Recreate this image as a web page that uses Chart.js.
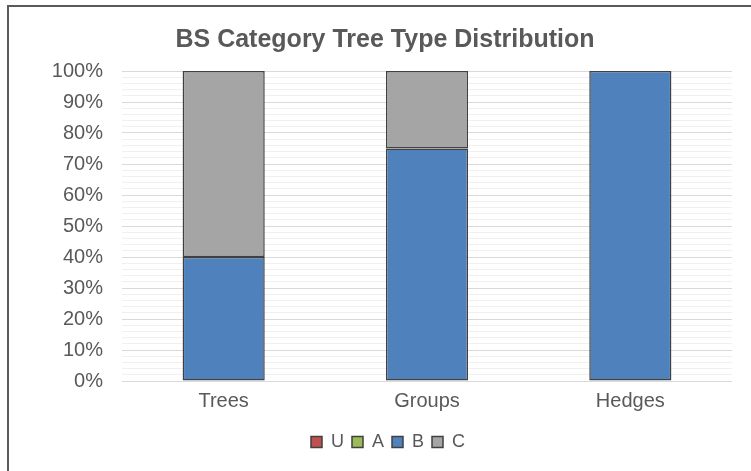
<!DOCTYPE html>
<html>
<head>
<meta charset="utf-8">
<script src="https://cdn.jsdelivr.net/npm/chart.js@4"></script>
<style>
  html, body { margin: 0; padding: 0; background: #fff; overflow: hidden; width: 751px; height: 471px; }
  #frame { position: absolute; left: 7px; top: 5px; width: 758px; height: 470px;
           border-left: 2px solid #5a5a5a; border-top: 2px solid #5a5a5a; box-sizing: border-box; }
  #wrap { position: absolute; left: 8px; top: 6px; width: 757px; height: 465px; }
</style>
</head>
<body>
<div id="frame"></div>
<div id="wrap"><canvas id="c"></canvas></div>
<script>
const categories = ["Trees", "Groups", "Hedges"];
const seriesNames = ["U", "A", "B", "C"];
const valuesU = [0, 0, 0];
const valuesA = [0, 0, 0];
const valuesB = [40, 75, 100];
const valuesC = [60, 25, 0];
const seriesColors = ["#C0504D", "#9BBB59", "#4F81BD", "#A5A5A5"];
const titleText = "BS Category Tree Type Distribution";

const seriesValues = [valuesU, valuesA, valuesB, valuesC];
const textColor = "#595959";
const fontFamily = "'Liberation Sans', Arial, sans-serif";

const blockShift = {
  id: 'blockShift',
  afterLayout(chart) {
    const lg = chart.legend;
    if (lg) { lg.top += 12; lg.bottom += 12; lg.left += 18; lg.right += 18; }
    const tb = chart.titleBlock;
    if (tb) { tb.left += 15; tb.right += 15; }
  }
};

new Chart(document.getElementById('c'), {
  type: 'bar',
  data: {
    labels: categories,
    datasets: seriesNames.map((name, i) => ({
      label: name,
      data: seriesValues[i],
      backgroundColor: seriesColors[i],
      borderColor: "#404040",
      borderWidth: 1.5,
      borderSkipped: false,
      barPercentage: 0.404,
      categoryPercentage: 1.0
    }))
  },
  options: {
    responsive: true,
    maintainAspectRatio: false,
    animation: false,
    devicePixelRatio: 1,
    layout: { padding: { left: 0, right: 33, top: 0, bottom: 22 } },
    plugins: {
      title: {
        display: true,
        text: titleText,
        color: textColor,
        font: { family: fontFamily, size: 25, weight: 'bold', lineHeight: 1.2 },
        padding: { top: 19, bottom: 16 }
      },
      legend: {
        position: 'bottom',
        labels: {
          color: textColor,
          font: { family: fontFamily, size: 18 },
          boxWidth: 11,
          boxHeight: 11,
          padding: 8
        }
      },
      tooltip: { enabled: false }
    },
    scales: {
      x: {
        stacked: true,
        grid: { display: false },
        border: { display: false },
        ticks: { color: textColor, font: { family: fontFamily, size: 20 }, padding: 0 }
      },
      y: {
        stacked: true,
        min: 0,
        max: 100,
        afterFit(scale) { scale.width = 114; },
        border: { display: false },
        grid: {
          drawTicks: false,
          color: (ctx) => (ctx.tick && ctx.tick.value % 10 === 0) ? "#d9d9d9" : "#f0f0f0",
          lineWidth: 1
        },
        ticks: {
          stepSize: 2,
          autoSkip: false,
          padding: 19,
          color: textColor,
          font: { family: fontFamily, size: 20 },
          callback: (v) => (v % 10 === 0) ? v + '%' : ''
        }
      }
    }
  },
  plugins: [blockShift]
});
</script>
</body>
</html>
